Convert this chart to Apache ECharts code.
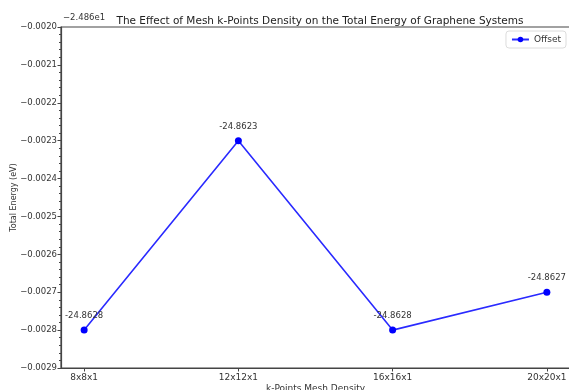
<!DOCTYPE html>
<html><head><meta charset="utf-8">
<script src="https://cdn.jsdelivr.net/npm/echarts@6/dist/echarts.min.js"></script>
<style>html,body{margin:0;padding:0;background:#fff}#c{width:569px;height:390px}</style>
</head><body><div id="c"></div>
<script>
const categories = ['8x8x1', '12x12x1', '16x16x1', '20x20x1'];
const energies = [-24.8628, -24.8623, -24.8628, -24.8627];
const OFFSET = -24.86;
const offsetText = '\u22122.486e1';
const yTicks = [-0.0029, -0.0028, -0.0027, -0.0026, -0.0025, -0.0024, -0.0023, -0.0022, -0.0021, -0.0020];

const yVals = energies.map(e => +(e - OFFSET).toFixed(4));
const data = yVals.map((v, i) => [i, v]);
const font = 'DejaVu Sans';
const chart = echarts.init(document.getElementById('c'));
chart.setOption({
  animation: false,
  textStyle: {fontFamily: font},
  title: {
    text: 'The Effect of Mesh k-Points Density on the Total Energy of Graphene Systems',
    left: 315, top: 11, textAlign: 'center',
    textStyle: {fontSize: 10.5, fontWeight: 'normal', color: '#222', fontFamily: font}
  },
  legend: {
    data: ['Offset'], right: 3, top: 31, orient: 'vertical',
    itemWidth: 17, itemHeight: 7, itemGap: 4,
    padding: [4, 5, 4, 5], borderColor: '#dcdcdc', borderWidth: 1, borderRadius: 3,
    backgroundColor: '#fff',
    textStyle: {fontSize: 9, color: '#333', fontFamily: font}
  },
  grid: {left: 61, top: 27, width: 509, height: 341, containLabel: false, outerBoundsMode: 'none',
    show: true, borderColor: '#444', borderWidth: 1.2, backgroundColor: 'transparent'},
  xAxis: {
    type: 'value', min: -0.15, max: 3.15,
    name: 'k-Points Mesh Density', nameLocation: 'middle', nameGap: 16, nameMoveOverlap: false,
    nameTextStyle: {fontSize: 9, color: '#333', fontFamily: font},
    axisLine: {show: true, onZero: false, lineStyle: {color: '#444', width: 1.2}},
    axisTick: {show: true, length: 3.5, customValues: [0, 1, 2, 3], lineStyle: {color: '#444'}},
    axisLabel: {customValues: [0, 1, 2, 3], fontSize: 9, color: '#333', margin: 5,
      formatter: v => categories[Math.round(v)] ?? ''},
    splitLine: {show: false}
  },
  yAxis: {
    type: 'value', min: -0.0029, max: -0.0020, interval: 0.0001,
    name: 'Total Energy (eV)', nameLocation: 'middle', nameGap: 43, nameMoveOverlap: false,
    nameTextStyle: {fontSize: 8, color: '#333', fontFamily: font},
    axisLine: {show: true, onZero: false, lineStyle: {color: '#444', width: 1.2}},
    axisTick: {show: true, length: 3.5, lineStyle: {color: '#444'}},
    minorTick: {show: true, splitNumber: 5, length: 2, lineStyle: {color: '#444'}},
    axisLabel: {fontSize: 8.5, color: '#333', margin: 4,
      formatter: v => (v < 0 ? '\u2212' : '') + Math.abs(v).toFixed(4)},
    splitLine: {show: false}
  },
  graphic: [{
    type: 'text', left: 63, top: 13,
    style: {text: offsetText, fontSize: 8.5, fill: '#333', fontFamily: font}
  }],
  series: [{
    name: 'Offset', type: 'line', data: data,
    symbol: 'circle', symbolSize: 7,
    itemStyle: {color: '#0000ff'},
    lineStyle: {color: '#2a2aff', width: 1.6},
    label: {show: true, position: 'top', distance: 6, fontSize: 8.5, color: '#333', fontFamily: font,
      formatter: p => energies[p.dataIndex].toFixed(4)}
  }]
});
</script></body></html>
